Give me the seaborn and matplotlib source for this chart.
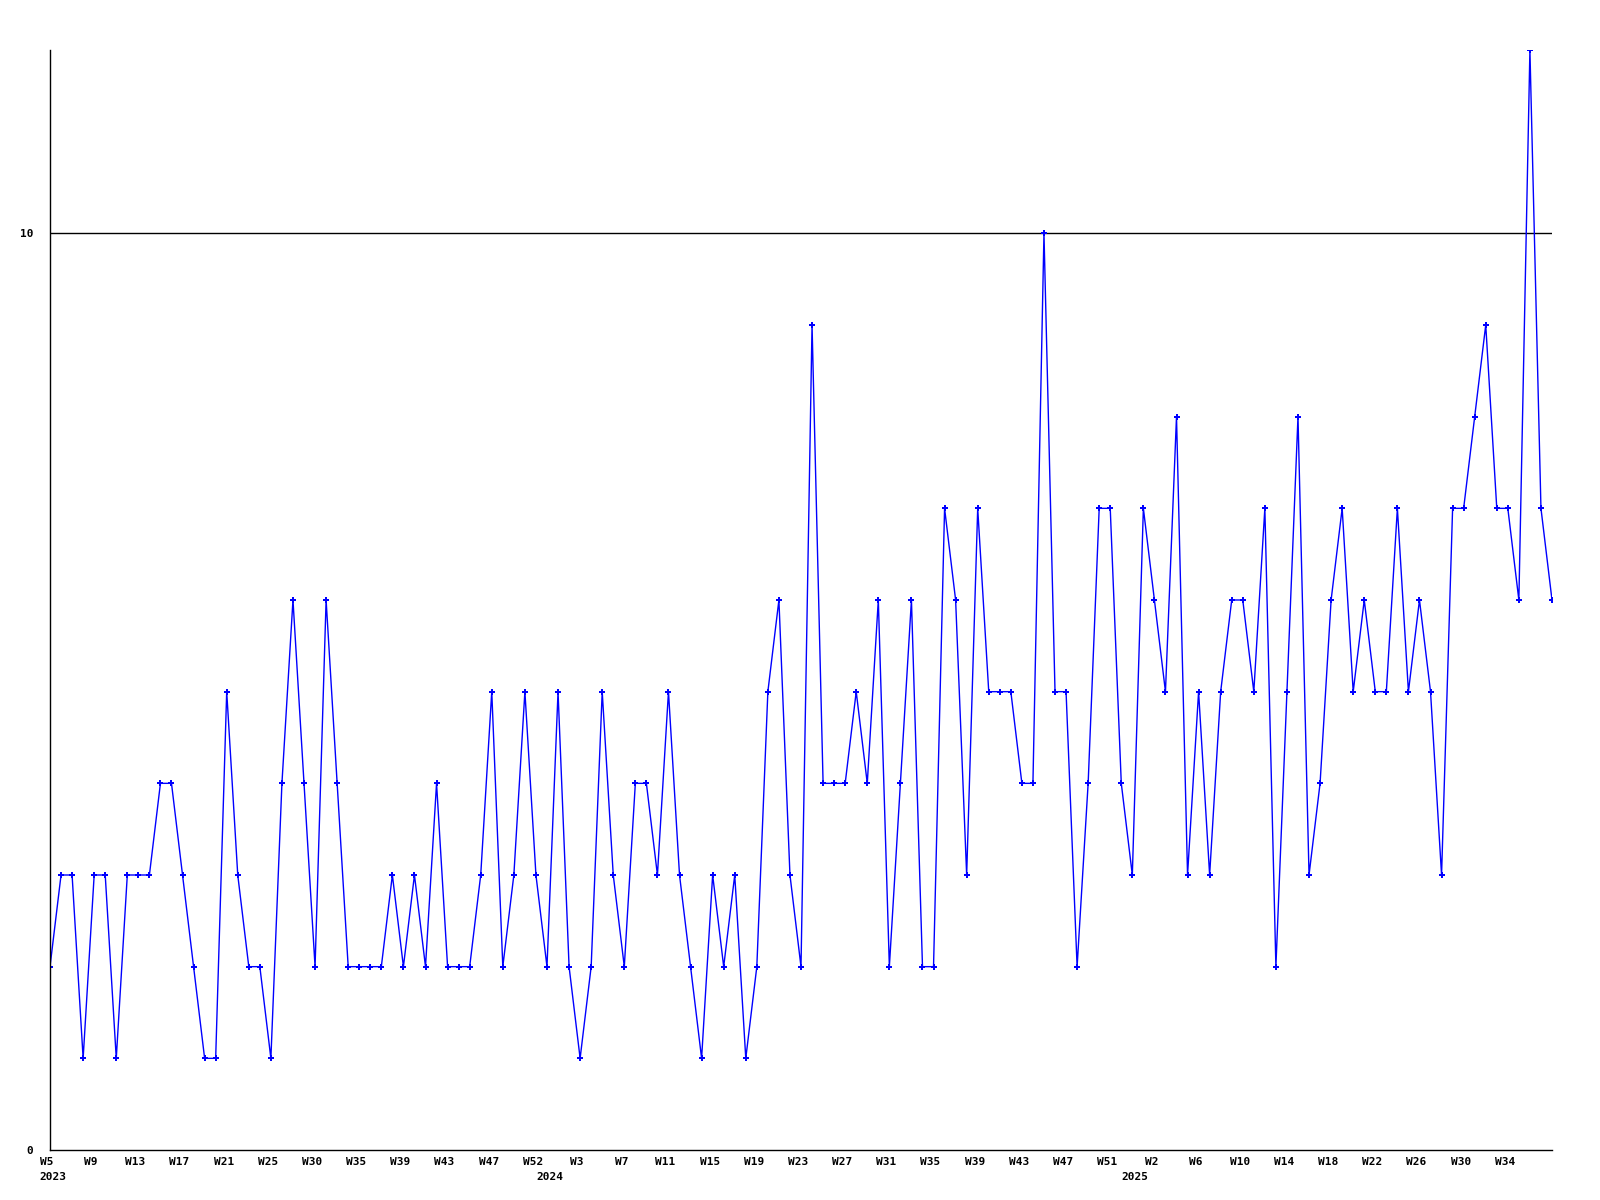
import seaborn as sns
import matplotlib.pyplot as plt
import matplotlib.transforms as mtransforms
import pandas as pd

# weekly counts
counts = [2, 3, 3, 1, 3, 3, 1, 3, 3, 3,
          4, 4, 3, 2, 1, 1, 5, 3, 2, 2,
          1, 4, 6, 4, 2, 6, 4, 2, 2, 2,
          2, 3, 2, 3, 2, 4, 2, 2, 2, 3,
          5, 2, 3, 5, 3, 2, 5, 2, 1, 2,
          5, 3, 2, 4, 4, 3, 5, 3, 2, 1,
          3, 2, 3, 1, 2, 5, 6, 3, 2, 9,
          4, 4, 4, 5, 4, 6, 2, 4, 6, 2,
          2, 7, 6, 3, 7, 5, 5, 5, 4, 4,
          10, 5, 5, 2, 4, 7, 7, 4, 3, 7,
          6, 5, 8, 3, 5, 3, 5, 6, 6, 5,
          7, 2, 5, 8, 3, 4, 6, 7, 5, 6,
          5, 5, 7, 5, 6, 5, 3, 7, 7, 8,
          9, 7, 7, 6, 12, 7, 6]

week_labels = ["W5", "W9", "W13", "W17", "W21", "W25", "W30", "W35", "W39",
               "W43", "W47", "W52", "W3", "W7", "W11", "W15", "W19", "W23",
               "W27", "W31", "W35", "W39", "W43", "W47", "W51", "W2", "W6",
               "W10", "W14", "W18", "W22", "W26", "W30", "W34"]
label_step = 4

years = ["2023", "2024", "2025"]
year_start = [0, 45, 98]

df = pd.DataFrame({"idx": range(len(counts)), "count": counts})

sns.set_style("white")
plt.rcParams['font.family'] = ['DejaVu Sans Mono', 'DejaVu Sans']

font_prop = {'fontsize': 8, 'fontweight': 'bold', 'color': 'black'}

fig = plt.figure(figsize=(16, 12), dpi=100)
ax = fig.add_axes([50 / 1600, 50 / 1200, 1502 / 1600, 1100 / 1200])

sns.lineplot(data=df, x="idx", y="count", ax=ax, color="#0000FF", linewidth=1,
             marker="P", markersize=4, markeredgewidth=0)

ax.set_xlim(0, len(counts) - 1)
ax.set_ylim(0, 12)

ax.set_yticks([0, 10])
ax.set_yticklabels(["0", "10"], **font_prop)
ax.axhline(10, color="black", linewidth=1, zorder=1)

ticks = list(range(0, len(week_labels) * label_step, label_step))
ax.set_xticks(ticks)
ax.set_xticklabels(week_labels, **font_prop)
ax.tick_params(axis="x", length=0, pad=5)
ax.tick_params(axis="y", length=0, pad=12)

# labels sit a few pixels left of the points in the original
shift = mtransforms.ScaledTranslation(-3 / 100, 0, fig.dpi_scale_trans)
for lbl in ax.get_xticklabels():
    lbl.set_transform(lbl.get_transform() + shift)

for yr, pos in zip(years, year_start):
    ax.annotate(yr, xy=(pos - 1, 0), xycoords=("data", "axes fraction"),
                xytext=(0, -16), textcoords="offset points",
                ha="left", va="top", annotation_clip=False, **font_prop)

ax.set_xlabel("")
ax.set_ylabel("")
for side in ["top", "right"]:
    ax.spines[side].set_visible(False)
for side in ["left", "bottom"]:
    ax.spines[side].set_color("black")
    ax.spines[side].set_linewidth(1)

plt.savefig("out.png", dpi=100)
